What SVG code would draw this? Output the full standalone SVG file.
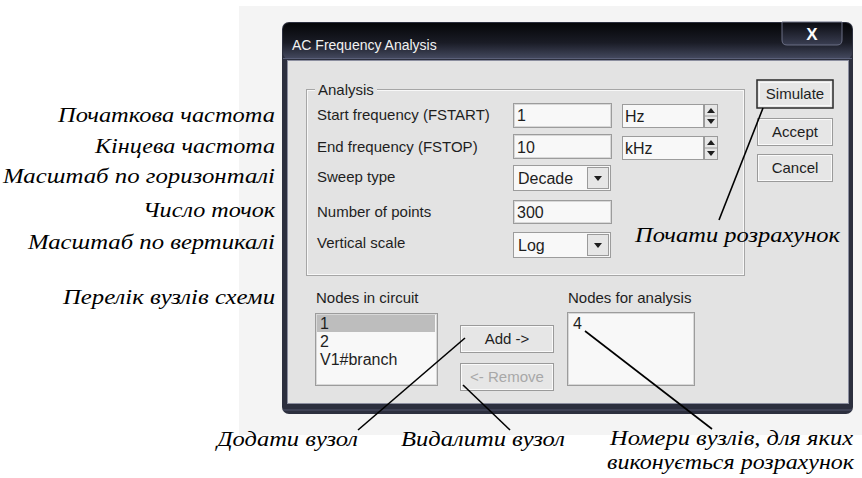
<svg xmlns="http://www.w3.org/2000/svg" width="862" height="478" viewBox="0 0 862 478">
<defs>
<linearGradient id="title" x1="0" y1="0" x2="0" y2="1">
<stop offset="0" stop-color="#050608"/>
<stop offset="0.55" stop-color="#1a1c26"/>
<stop offset="1" stop-color="#454a60"/>
</linearGradient>
<linearGradient id="close" x1="0" y1="0" x2="0" y2="1">
<stop offset="0" stop-color="#0a0b10"/>
<stop offset="1" stop-color="#3a3e52"/>
</linearGradient>
<style>
.ui{font-family:'Liberation Sans',Arial,sans-serif;font-size:15px;fill:#1e1e1e}
.val{font-size:16px}
.dis{fill:#a8a8a8}
.ann{font-family:'Liberation Serif','DejaVu Serif',serif;font-style:italic;font-size:20px;fill:#000}
.field{fill:#f8f8f8;stroke:#9c9c9c;stroke-width:1}
.fieldin{fill:none;stroke:#d8d8d8;stroke-width:1}
.btn{fill:#e6e6e6;stroke:#9a9a9a;stroke-width:1}
.btnhi{fill:none;stroke:#fafafa;stroke-width:1}
.arr{fill:#1e1e1e}
.conn{stroke:#000;stroke-width:1.6;fill:none}
</style>
</defs>
<rect x="239" y="6" width="623" height="429" fill="#f4f4f4"/>
<g id="window">
<rect x="282" y="22" width="571" height="392" rx="7" fill="#2c2f3e"/>
<rect x="283" y="23" width="569" height="36" rx="6" fill="url(#title)"/>
<line x1="283" y1="58.5" x2="852" y2="58.5" stroke="#5a5f78" stroke-width="1"/>
<rect x="287.5" y="60.5" width="561" height="343" fill="#e3e3e3" stroke="#8c8fa0" stroke-width="1"/>
<line x1="283" y1="410" x2="852" y2="410" stroke="#50546a" stroke-width="1"/>
<text x="292" y="50" font-family="'Liberation Sans',Arial,sans-serif" font-size="14" fill="#f2f2f2">AC Frequency Analysis</text>
</g>
<g id="close-button">
<path d="M782 22 H842 V40 Q842 45 837 45 H787 Q782 45 782 40 Z" fill="url(#close)" stroke="#6a6e84" stroke-width="1"/>
<text x="812" y="40" text-anchor="middle" font-family="'Liberation Sans',Arial,sans-serif" font-weight="bold" font-size="17" fill="#fff">X</text>
</g>
<g id="analysis-group">
<rect x="306.5" y="89.5" width="438" height="186" fill="none" stroke="#a6a6a6"/>
<rect x="307.5" y="90.5" width="436" height="184" fill="none" stroke="#f8f8f8"/>
<rect x="315" y="83" width="62" height="13" fill="#e3e3e3"/>
<text class="ui" x="318" y="95">Analysis</text>
</g>
<g id="start-frequency">
<text class="ui" x="317" y="120">Start frequency (FSTART)</text>
<rect class="field" x="513.5" y="103.5" width="98" height="24"/>
<rect class="fieldin" x="514.5" y="104.5" width="96" height="22"/>
<text class="ui val" x="517" y="121">1</text>
</g>
<g id="start-unit">
<rect class="field" x="622.5" y="104.5" width="81" height="23"/>
<text class="ui val" x="625" y="122">Hz</text>
<rect class="btn" x="704.5" y="104.5" width="13" height="23"/>
<line x1="705" y1="116" x2="717" y2="116" stroke="#9a9a9a"/>
<path class="arr" d="M707 113 L711 108 L715 113 Z"/>
<path class="arr" d="M707 119 L711 124 L715 119 Z"/>
</g>
<g id="end-frequency">
<text class="ui" x="317" y="152">End frequency (FSTOP)</text>
<rect class="field" x="513.5" y="134.5" width="98" height="24"/>
<rect class="fieldin" x="514.5" y="135.5" width="96" height="22"/>
<text class="ui val" x="517" y="153">10</text>
</g>
<g id="end-unit">
<rect class="field" x="622.5" y="136.5" width="81" height="23"/>
<text class="ui val" x="625" y="154">kHz</text>
<rect class="btn" x="704.5" y="136.5" width="13" height="23"/>
<line x1="705" y1="148" x2="717" y2="148" stroke="#9a9a9a"/>
<path class="arr" d="M707 145 L711 140 L715 145 Z"/>
<path class="arr" d="M707 151 L711 156 L715 151 Z"/>
</g>
<g id="sweep-type">
<text class="ui" x="317" y="182">Sweep type</text>
<rect class="field" x="513.5" y="165.5" width="97" height="25"/>
<text class="ui val" x="518" y="184">Decade</text>
<rect class="btn" x="587.5" y="167.5" width="21" height="21"/>
<path class="arr" d="M594 176 L602 176 L598 181 Z"/>
</g>
<g id="number-of-points">
<text class="ui" x="317" y="217">Number of points</text>
<rect class="field" x="513.5" y="200.5" width="98" height="23"/>
<rect class="fieldin" x="514.5" y="201.5" width="96" height="21"/>
<text class="ui val" x="517" y="218">300</text>
</g>
<g id="vertical-scale">
<text class="ui" x="317" y="248">Vertical scale</text>
<rect class="field" x="513.5" y="232.5" width="97" height="25"/>
<text class="ui val" x="518" y="251">Log</text>
<rect class="btn" x="587.5" y="234.5" width="21" height="21"/>
<path class="arr" d="M594 243 L602 243 L598 248 Z"/>
</g>
<g id="simulate">
<rect x="757" y="80" width="76" height="28" fill="#e6e6e6" stroke="#2a2a2a" stroke-width="1.5"/>
<rect x="759.5" y="82.5" width="71" height="23" fill="none" stroke="#f8f8f8"/>
<text class="ui" x="795" y="99" text-anchor="middle">Simulate</text>
</g>
<g id="accept">
<rect class="btn" x="757.5" y="118.5" width="75" height="27"/>
<rect class="btnhi" x="758.5" y="119.5" width="73" height="25"/>
<text class="ui" x="795" y="137" text-anchor="middle">Accept</text>
</g>
<g id="cancel">
<rect class="btn" x="757.5" y="154.5" width="75" height="27"/>
<rect class="btnhi" x="758.5" y="155.5" width="73" height="25"/>
<text class="ui" x="795" y="173" text-anchor="middle">Cancel</text>
</g>
<g id="nodes-in-circuit">
<text class="ui" x="316" y="303">Nodes in circuit</text>
<rect class="field" x="315.5" y="313.5" width="122" height="72"/>
<rect class="fieldin" x="316.5" y="314.5" width="120" height="70"/>
<rect x="317" y="315" width="118" height="17" fill="#bdbdbd"/>
<text class="ui val" x="320" y="329">1</text>
<text class="ui val" x="320" y="347">2</text>
<text class="ui val" x="320" y="365">V1#branch</text>
</g>
<g id="add-button">
<rect class="btn" x="460.5" y="325.5" width="93" height="27"/>
<rect class="btnhi" x="461.5" y="326.5" width="91" height="25"/>
<text class="ui" x="507" y="344" text-anchor="middle">Add -&gt;</text>
</g>
<g id="remove-button">
<rect class="btn" x="460.5" y="363.5" width="93" height="27"/>
<rect class="btnhi" x="461.5" y="364.5" width="91" height="25"/>
<text class="ui dis" x="507" y="382" text-anchor="middle">&lt;- Remove</text>
</g>
<g id="nodes-for-analysis">
<text class="ui" x="568" y="303">Nodes for analysis</text>
<rect class="field" x="567.5" y="312.5" width="127" height="73"/>
<rect class="fieldin" x="568.5" y="313.5" width="125" height="71"/>
<text class="ui val" x="573" y="329">4</text>
</g>
<g id="labels-left">
<text class="ann" x="275" y="122" text-anchor="end" textLength="217" lengthAdjust="spacingAndGlyphs">Початкова частота</text>
<text class="ann" x="275" y="153" text-anchor="end" textLength="180" lengthAdjust="spacingAndGlyphs">Кінцева частота</text>
<text class="ann" x="275" y="183" text-anchor="end" textLength="272" lengthAdjust="spacingAndGlyphs">Масштаб по горизонталі</text>
<text class="ann" x="275" y="217" text-anchor="end" textLength="132" lengthAdjust="spacingAndGlyphs">Число точок</text>
<text class="ann" x="275" y="249" text-anchor="end" textLength="247" lengthAdjust="spacingAndGlyphs">Масштаб по вертикалі</text>
<text class="ann" x="275" y="304" text-anchor="end" textLength="212" lengthAdjust="spacingAndGlyphs">Перелік вузлів схеми</text>
</g>
<g id="labels-callouts">
<text class="ann" x="635" y="242" textLength="205" lengthAdjust="spacingAndGlyphs">Почати розрахунок</text>
<text class="ann" x="217" y="446" textLength="141" lengthAdjust="spacingAndGlyphs">Додати вузол</text>
<text class="ann" x="401" y="446" textLength="164" lengthAdjust="spacingAndGlyphs">Видалити вузол</text>
<text class="ann" x="610" y="445" textLength="243" lengthAdjust="spacingAndGlyphs">Номери вузлів, для яких</text>
<text class="ann" x="607" y="469" textLength="247" lengthAdjust="spacingAndGlyphs">виконується розрахунок</text>
</g>
<g id="connectors">
<line class="conn" x1="763" y1="108" x2="719" y2="220"/>
<line class="conn" x1="465" y1="338" x2="358" y2="430"/>
<line class="conn" x1="463" y1="385" x2="510" y2="430"/>
<line class="conn" x1="585" y1="331" x2="712" y2="429"/>
</g>
</svg>
